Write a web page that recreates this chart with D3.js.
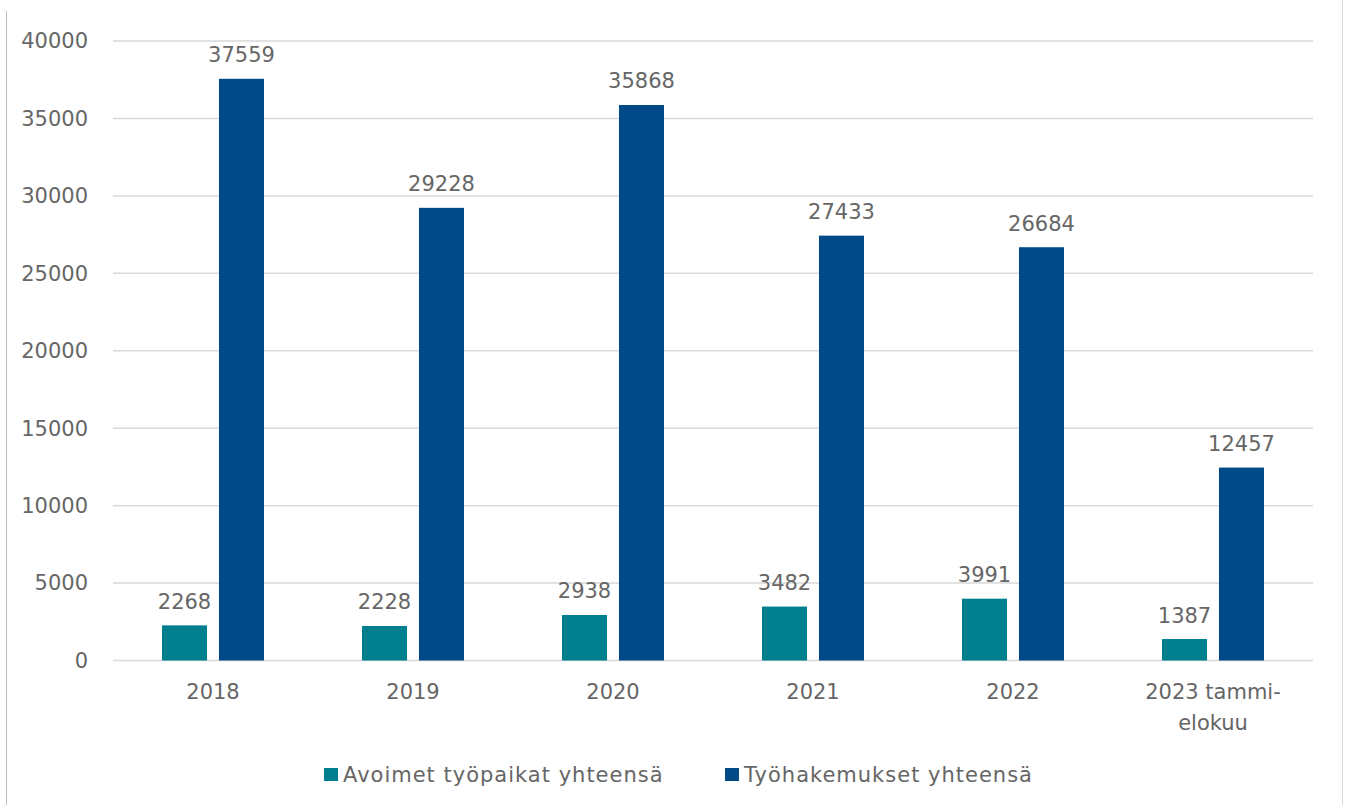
<!DOCTYPE html>
<html>
<head>
<meta charset="utf-8">
<script src="https://cdn.jsdelivr.net/npm/d3@7"></script>
<style>
body { margin: 0; background: #fff; }
text { font-family: "DejaVu Sans", sans-serif; fill: #666666; }
</style>
</head>
<body>
<div id="chart"></div>
<script>
var categories = ["2018", "2019", "2020", "2021", "2022", "2023 tammi-|elokuu"];
var avoimet = [2268, 2228, 2938, 3482, 3991, 1387];
var hakemukset = [37559, 29228, 35868, 27433, 26684, 12457];
var seriesNames = ["Avoimet työpaikat yhteensä", "Työhakemukset yhteensä"];
var colors = ["#007F8F", "#004B87"];
var yTicks = [0, 5000, 10000, 15000, 20000, 25000, 30000, 35000, 40000];

var width = 1347, height = 805;

var svg = d3.select("#chart").append("svg")
	.attr("width", width)
	.attr("height", height);

// frame lines left and right
svg.append("line").attr("x1", 6.5).attr("x2", 6.5).attr("y1", 11).attr("y2", height)
	.attr("stroke", "#bfbfbf").attr("stroke-width", 1);
svg.append("line").attr("x1", 1342.5).attr("x2", 1342.5).attr("y1", 0).attr("y2", height)
	.attr("stroke", "#d9d9d9").attr("stroke-width", 1);

var x = d3.scaleBand()
	.domain(categories)
	.range([113, 1313]);

var y = d3.scaleLinear()
	.domain([0, 40000])
	.range([660.5, 41]);

var sub = d3.scaleBand()
	.domain([0, 1])
	.range([49, 151])
	.paddingInner(0.21);

// grid
svg.append("g")
	.selectAll("line")
	.data(yTicks)
	.enter().append("line")
	.attr("x1", 113).attr("x2", 1313)
	.attr("y1", function(d) { return y(d); })
	.attr("y2", function(d) { return y(d); })
	.attr("stroke", "#d9d9d9")
	.attr("stroke-width", 1.5);

// y labels
svg.append("g")
	.selectAll("text")
	.data(yTicks)
	.enter().append("text")
	.attr("x", 88)
	.attr("y", function(d) { return y(d); })
	.attr("dy", ".35em")
	.attr("text-anchor", "end")
	.style("font-size", "21px")
	.text(function(d) { return d; });

var data = categories.map(function(c, i) {
	return { cat: c, vals: [avoimet[i], hakemukset[i]] };
});

var groups = svg.append("g")
	.selectAll("g")
	.data(data)
	.enter().append("g")
	.attr("transform", function(d) { return "translate(" + x(d.cat) + ",0)"; });

groups.selectAll("rect")
	.data(function(d) { return d.vals; })
	.enter().append("rect")
	.attr("x", function(d, i) { return sub(i); })
	.attr("width", sub.bandwidth())
	.attr("y", function(d) { return y(d); })
	.attr("height", function(d) { return y(0) - y(d); })
	.attr("fill", function(d, i) { return colors[i]; });

groups.selectAll("text.val")
	.data(function(d) { return d.vals; })
	.enter().append("text")
	.attr("class", "val")
	.attr("x", function(d, i) { return sub(i) + sub.bandwidth() / 2; })
	.attr("y", function(d) { return y(d) - 16.5; })
	.attr("text-anchor", "middle")
	.style("font-size", "21px")
	.text(function(d) { return d; });

// x labels
var xl = groups.append("text")
	.attr("x", x.bandwidth() / 2)
	.attr("y", 699)
	.attr("text-anchor", "middle")
	.style("font-size", "21px");
xl.selectAll("tspan")
	.data(function(d) { return d.cat.split("|"); })
	.enter().append("tspan")
	.attr("x", x.bandwidth() / 2)
	.attr("dy", function(d, i) { return i ? 31 : 0; })
	.text(function(d) { return d; });

// legend
var legendX = [324, 725];
var legend = svg.append("g")
	.selectAll("g")
	.data(seriesNames)
	.enter().append("g")
	.attr("transform", function(d, i) { return "translate(" + legendX[i] + ",768)"; });
legend.append("rect")
	.attr("width", 14).attr("height", 13)
	.attr("fill", function(d, i) { return colors[i]; });
legend.append("text")
	.attr("x", 19)
	.attr("y", 14)
	.style("font-size", "21px")
	.style("letter-spacing", "1px")
	.text(function(d) { return d; });
</script>
</body>
</html>
